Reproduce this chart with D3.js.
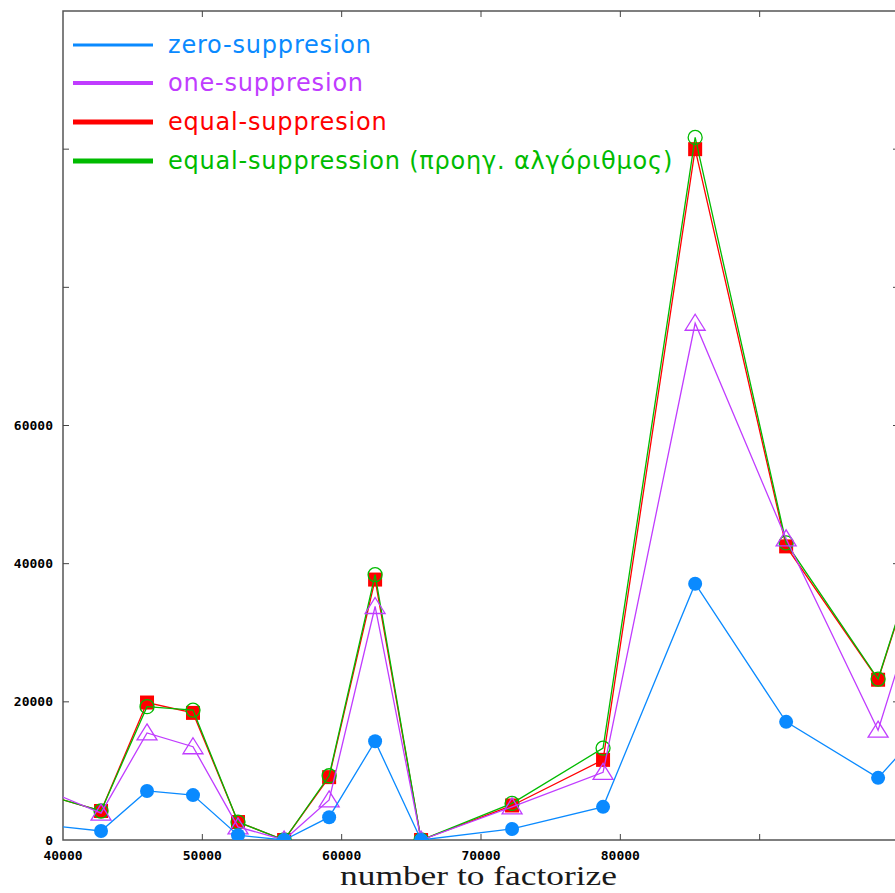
<!DOCTYPE html>
<html>
<head>
<meta charset="utf-8">
<script src="https://cdn.jsdelivr.net/npm/d3@7/dist/d3.min.js"></script>
<style>
  html, body { margin: 0; padding: 0; background: #fff; }
  svg { display: block; }
</style>
</head>
<body>
<svg id="chart" width="895" height="893"></svg>
<script>
// Numbers factorized (x) and cost per suppression strategy (y)
const numbers = [39000, 42730, 46030, 49330, 52560, 55870, 59100, 62400, 65700, 72230, 78760, 85370, 91900, 98500, 105000];
const zeroSuppresion = [2120, 1300, 7100, 6500, 700, 0, 3300, 14300, 0, 1600, 4800, 37100, 17100, 9000, 23400];
const oneSuppresion = [7050, 3900, 15500, 13500, 1900, 0, 5800, 33800, 0, 4800, 9800, 74800, 43600, 15900, 58000];
const equalSuppresion = [6390, 4200, 19900, 18400, 2600, 0, 9100, 37700, 0, 5000, 11600, 100000, 42500, 23200, 64000];
const equalPrevious = [6390, 4200, 19300, 18800, 2600, 0, 9300, 38400, 0, 5300, 13300, 101700, 43000, 23300, 64500];

const xTicks = [50000, 60000, 70000, 80000, 90000];
const xTickLabels = [40000, 50000, 60000, 70000, 80000];
const yTicks = [20000, 40000, 60000, 80000, 100000];
const yTickLabels = [0, 20000, 40000, 60000];

const seriesNames = ["zero-suppresion", "one-suppresion", "equal-suppresion", "equal-suppression (προηγ. αλγόριθμος)"];
const seriesColors = ["#0a8aff", "#c03cff", "#ff0000", "#00bb00"];

const svg = d3.select("#chart");
const plotLeft = 63, plotRight = 899, plotTop = 11, plotBottom = 840;

const x = d3.scaleLinear().domain([40000, 100000]).range([plotLeft, plotRight]);
const y = d3.scaleLinear().domain([0, 120000]).range([plotBottom, plotTop]);

svg.append("defs").append("clipPath").attr("id", "plotclip")
  .append("rect").attr("x", plotLeft).attr("y", plotTop)
  .attr("width", plotRight - plotLeft).attr("height", plotBottom - plotTop);

// Frame
svg.append("rect")
  .attr("x", plotLeft).attr("y", plotTop)
  .attr("width", plotRight - plotLeft).attr("height", plotBottom - plotTop)
  .attr("fill", "none").attr("stroke", "#555").attr("stroke-width", 1.5);

// Inward ticks on all four sides
const tickLen = 6;
const tickG = svg.append("g").attr("stroke", "#444").attr("stroke-width", 1);
xTicks.forEach(v => {
  tickG.append("line").attr("x1", x(v)).attr("x2", x(v)).attr("y1", plotBottom).attr("y2", plotBottom - tickLen);
  tickG.append("line").attr("x1", x(v)).attr("x2", x(v)).attr("y1", plotTop).attr("y2", plotTop + tickLen);
});
yTicks.forEach(v => {
  tickG.append("line").attr("x1", plotLeft).attr("x2", plotLeft + tickLen).attr("y1", y(v)).attr("y2", y(v));
  tickG.append("line").attr("x1", plotRight).attr("x2", plotRight - tickLen).attr("y1", y(v)).attr("y2", y(v));
});

// Tick labels
const tickFont = "'DejaVu Sans Mono', monospace";
svg.append("g").selectAll("text").data(yTickLabels).join("text")
  .attr("x", 53).attr("y", d => y(d)).attr("dy", "0.35em")
  .attr("text-anchor", "end")
  .attr("font-family", tickFont).attr("font-weight", "bold").attr("font-size", 13)
  .attr("fill", "#000").text(d => d);
svg.append("g").selectAll("text").data(xTickLabels).join("text")
  .attr("x", d => x(d)).attr("y", 855).attr("dy", "0.35em")
  .attr("text-anchor", "middle")
  .attr("font-family", tickFont).attr("font-weight", "bold").attr("font-size", 13)
  .attr("fill", "#000").text(d => d);

// Axis title (wide serif)
svg.append("text")
  .attr("x", 340).attr("y", 885)
  .attr("font-family", "'Liberation Serif', 'DejaVu Serif', serif")
  .attr("font-size", 27).attr("fill", "#1a1a1a")
  .attr("textLength", 277).attr("lengthAdjust", "spacingAndGlyphs")
  .text("number to factorize");

// Series
const plot = svg.append("g").attr("clip-path", "url(#plotclip)");
const allSeries = [zeroSuppresion, oneSuppresion, equalSuppresion, equalPrevious];
const line = d3.line().x((d, i) => x(numbers[i])).y(d => y(d));

function drawMarker(g, idx, cx, cy) {
  const c = seriesColors[idx];
  if (idx === 0) {
    g.append("circle").attr("cx", cx).attr("cy", cy).attr("r", 7).attr("fill", c);
  } else if (idx === 1) {
    const w = 10, h = 14;
    g.append("path")
      .attr("d", `M${cx},${cy - h / 2 - 2}L${cx + w},${cy + h / 2}L${cx - w},${cy + h / 2}Z`)
      .attr("fill", "none").attr("stroke", c).attr("stroke-width", 1.3);
  } else if (idx === 2) {
    g.append("rect").attr("x", cx - 7).attr("y", cy - 7).attr("width", 14).attr("height", 14).attr("fill", c);
  } else {
    g.append("circle").attr("cx", cx).attr("cy", cy).attr("r", 7)
      .attr("fill", "none").attr("stroke", c).attr("stroke-width", 1.3);
  }
}

// draw order: equal, previous equal, one, zero
[2, 3, 1, 0].forEach(idx => {
  const data = allSeries[idx];
  const g = plot.append("g");
  g.append("path").datum(data).attr("d", line)
    .attr("fill", "none").attr("stroke", seriesColors[idx]).attr("stroke-width", 1.3);
  data.forEach((v, i) => drawMarker(g, idx, x(numbers[i]), y(v)));
});

// Legend
const legendRows = [45, 83, 122, 161];
const legendWidths = [3, 4, 5, 5];
const legend = svg.append("g");
seriesNames.forEach((name, i) => {
  legend.append("line")
    .attr("x1", 73).attr("x2", 153).attr("y1", legendRows[i]).attr("y2", legendRows[i])
    .attr("stroke", seriesColors[i]).attr("stroke-width", legendWidths[i]);
  legend.append("text")
    .attr("x", 168).attr("y", legendRows[i]).attr("dy", "0.35em")
    .attr("font-family", "'DejaVu Sans', sans-serif").attr("font-size", 24)
    .attr("letter-spacing", 0.8)
    .attr("fill", seriesColors[i]).text(name);
});
</script>
</body>
</html>
